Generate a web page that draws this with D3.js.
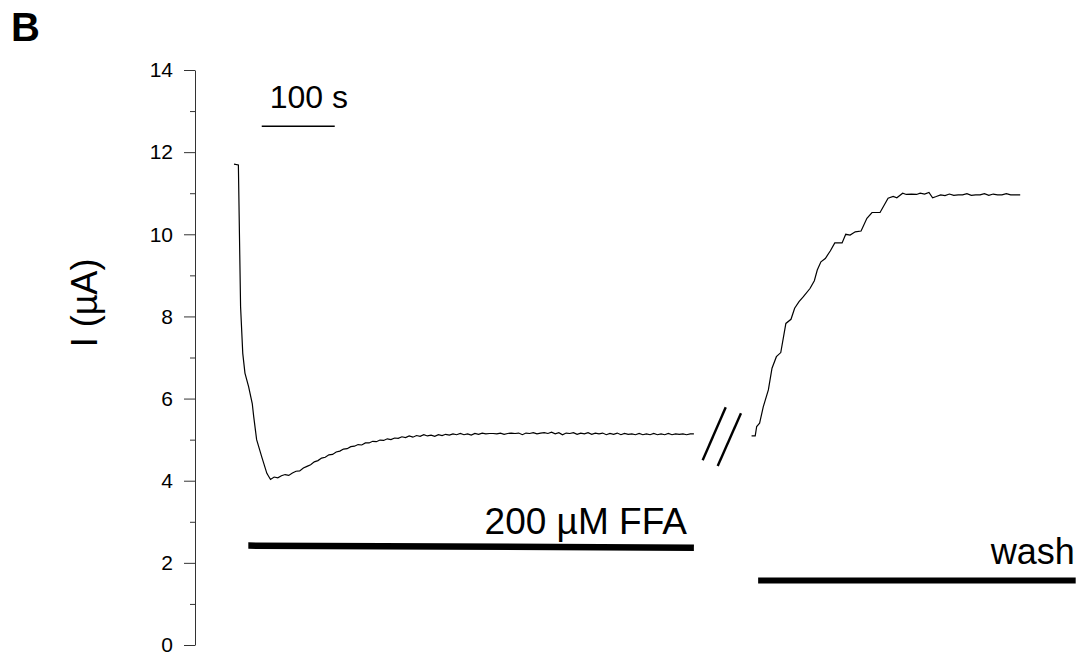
<!DOCTYPE html>
<html lang="en">
<head>
<meta charset="utf-8">
<script src="https://d3js.org/d3.v7.min.js"></script>
<style>
  body { margin: 0; background: #fff; }
  svg text { font-family: "Liberation Sans", Arial, sans-serif; fill: #000; }
  .axis path, .axis line { stroke: #333; stroke-width: 1px; }
  .axis text { font-size: 21px; }
  .trace { fill: none; stroke: #000; stroke-width: 1.2px; }
</style>
</head>
<body>
<div id="chart"></div>
<script>
// current trace during 200 uM FFA (time in s, current in uA)
var ffaTime = [0, 6, 9, 12, 15, 20, 25, 27, 31, 38, 45, 50,
  55, 60, 65, 70, 75, 80, 85, 90, 95, 100, 105, 110, 115, 120, 125, 130, 135, 140, 145, 150,
  155, 160, 165, 170, 175, 180, 185, 190, 195, 200, 205, 210, 215, 220, 225, 230, 235, 240,
  245, 250, 255, 260, 265, 270, 275, 280, 285, 290, 295, 300, 305, 310, 315, 320, 325, 330,
  335, 340, 345, 350, 355, 360, 365, 370, 375, 380, 385, 390, 395, 400, 405, 410, 415, 420,
  425, 430, 435, 440, 445, 450, 455, 460, 465, 470, 475, 480, 485, 490, 495, 500, 505, 510,
  515, 520, 525, 530, 535, 540, 545, 550, 555, 560, 565, 570, 575, 580, 585, 590, 595, 600,
  605, 610, 615, 620, 625, 630];
var ffaCurrent = [11.71, 11.69, 8.24, 7.10, 6.62, 6.29, 5.88, 5.56, 5.00, 4.58, 4.18, 4.03,
  4.09, 4.07, 4.12, 4.15, 4.13, 4.19, 4.23, 4.24, 4.31, 4.35, 4.39, 4.46, 4.49, 4.55, 4.57, 4.63, 4.64, 4.70, 4.72, 4.77,
  4.78, 4.83, 4.84, 4.88, 4.87, 4.92, 4.92, 4.96, 4.95, 4.99, 4.98, 5.02, 5.00, 5.04, 5.03, 5.07, 5.05, 5.09,
  5.06, 5.10, 5.08, 5.12, 5.09, 5.11, 5.08, 5.12, 5.10, 5.13, 5.11, 5.14, 5.12, 5.15, 5.12, 5.14, 5.11, 5.15,
  5.13, 5.16, 5.14, 5.15, 5.15, 5.14, 5.16, 5.13, 5.15, 5.16, 5.15, 5.16, 5.12, 5.16, 5.15, 5.17, 5.14, 5.16,
  5.17, 5.15, 5.18, 5.14, 5.17, 5.12, 5.16, 5.15, 5.17, 5.13, 5.16, 5.14, 5.17, 5.13, 5.16, 5.14, 5.16, 5.12,
  5.15, 5.13, 5.16, 5.12, 5.15, 5.13, 5.14, 5.12, 5.15, 5.12, 5.14, 5.12, 5.15, 5.12, 5.14, 5.12, 5.15, 5.12,
  5.14, 5.13, 5.14, 5.12, 5.14, 5.14];

// current trace during wash
var washTime = [709, 714, 716, 720, 725, 732, 737, 743, 749, 756, 763, 768, 774, 780, 789, 795,
  799, 804, 810, 817, 823, 833, 838, 844, 851, 859, 867, 874, 885, 896, 903, 908, 916, 921,
  928, 935, 940, 946, 952, 957, 962, 968, 974, 980, 986, 992, 998, 1004, 1010, 1016, 1022,
  1028, 1034, 1040, 1046, 1052, 1058, 1064, 1070, 1077];
var washCurrent = [5.09, 5.09, 5.32, 5.40, 5.80, 6.21, 6.74, 7.02, 7.12, 7.83, 7.93, 8.20, 8.36, 8.48, 8.68, 8.87,
  9.13, 9.33, 9.41, 9.60, 9.79, 9.79, 10.00, 9.98, 10.06, 10.08, 10.39, 10.53, 10.53, 10.88, 10.92, 10.89, 11.00, 10.97,
  10.98, 10.97, 11.00, 10.98, 11.02, 10.89, 10.92, 10.96, 10.94, 10.98, 10.95, 10.96, 10.96, 10.99, 10.95, 10.96, 10.96,
  10.99, 10.95, 10.98, 10.96, 10.96, 10.99, 10.96, 10.96, 10.96];

// y ticks
var majorTicks = [0, 2, 4, 6, 8, 10, 12, 14];
var minorTicks = [1, 3, 5, 7, 9, 11, 13];

// application bars: [start s, end s], [level at start, level at end] in uA
var ffaBarTime = [19.6, 630], ffaBarLevel = [2.42, 2.37];
var washBarTime = [718, 1153], washBarLevel = [1.57, 1.57];

// 100 s scale bar
var scaleBarTime = [38, 138], scaleBarLevel = 12.63;

// axis break marks (two slashes): [t0, v0, t1, v1]
var breakMarks = [[673.6, 5.79, 642, 4.50], [694.5, 5.64, 662.6, 4.36]];

var width = 1082, height = 656;

var svg = d3.select("#chart").append("svg")
  .attr("width", width)
  .attr("height", height);

var x = d3.scaleLinear().domain([0, 1100]).range([234, 234 + 1100 * 0.73]);
var y = d3.scaleLinear().domain([0, 14]).range([645, 70]);

// y axis
svg.append("g")
  .attr("class", "axis")
  .attr("transform", "translate(195,0)")
  .call(d3.axisLeft(y).tickValues(majorTicks).tickSize(11).tickSizeOuter(0).tickPadding(11));

svg.append("g")
  .attr("class", "axis")
  .attr("transform", "translate(195,0)")
  .call(d3.axisLeft(y).tickValues(minorTicks).tickSize(5).tickSizeOuter(0).tickFormat(""))
  .select(".domain").remove();

svg.append("text")
  .attr("transform", "translate(97,303) rotate(-90)")
  .attr("text-anchor", "middle")
  .style("font-size", "36px")
  .text("I (µA)");

svg.append("text")
  .attr("x", 11)
  .attr("y", 41)
  .style("font-size", "40px")
  .style("font-weight", "bold")
  .text("B");

// traces
var line = d3.line()
  .x(function(d) { return x(d[0]); })
  .y(function(d) { return y(d[1]); });

svg.append("path")
  .attr("class", "trace")
  .attr("d", line(d3.zip(ffaTime, ffaCurrent)));

svg.append("path")
  .attr("class", "trace")
  .attr("d", line(d3.zip(washTime, washCurrent)));

// break marks
svg.selectAll(".break")
  .data(breakMarks)
  .enter().append("line")
  .attr("class", "break")
  .attr("x1", function(d) { return x(d[0]); })
  .attr("y1", function(d) { return y(d[1]); })
  .attr("x2", function(d) { return x(d[2]); })
  .attr("y2", function(d) { return y(d[3]); })
  .attr("stroke", "#000")
  .attr("stroke-width", 2.4);

// scale bar
svg.append("line")
  .attr("x1", x(scaleBarTime[0]))
  .attr("x2", x(scaleBarTime[1]))
  .attr("y1", y(scaleBarLevel))
  .attr("y2", y(scaleBarLevel))
  .attr("stroke", "#000")
  .attr("stroke-width", 1.3);

svg.append("text")
  .attr("x", x(scaleBarTime[0]) + 8)
  .attr("y", y(scaleBarLevel) - 18)
  .style("font-size", "32px")
  .text("100 s");

// drug application bars
var bars = [
  { t: ffaBarTime, v: ffaBarLevel, label: "200 µM FFA", dx: -7, dy: -14, w: 6.5 },
  { t: washBarTime, v: washBarLevel, label: "wash", dx: -1, dy: -17, w: 6 }
];

svg.selectAll(".bar")
  .data(bars)
  .enter().append("line")
  .attr("class", "bar")
  .attr("x1", function(d) { return x(d.t[0]); })
  .attr("y1", function(d) { return y(d.v[0]); })
  .attr("x2", function(d) { return x(d.t[1]); })
  .attr("y2", function(d) { return y(d.v[1]); })
  .attr("stroke", "#000")
  .attr("stroke-width", function(d) { return d.w; });

svg.selectAll(".bar-label")
  .data(bars)
  .enter().append("text")
  .attr("class", "bar-label")
  .attr("x", function(d) { return x(d.t[1]) + d.dx; })
  .attr("y", function(d) { return y(d.v[1]) + d.dy; })
  .attr("text-anchor", "end")
  .style("font-size", function(d) { return d.label === "wash" ? "36px" : "37px"; })
  .text(function(d) { return d.label; });
</script>
</body>
</html>
